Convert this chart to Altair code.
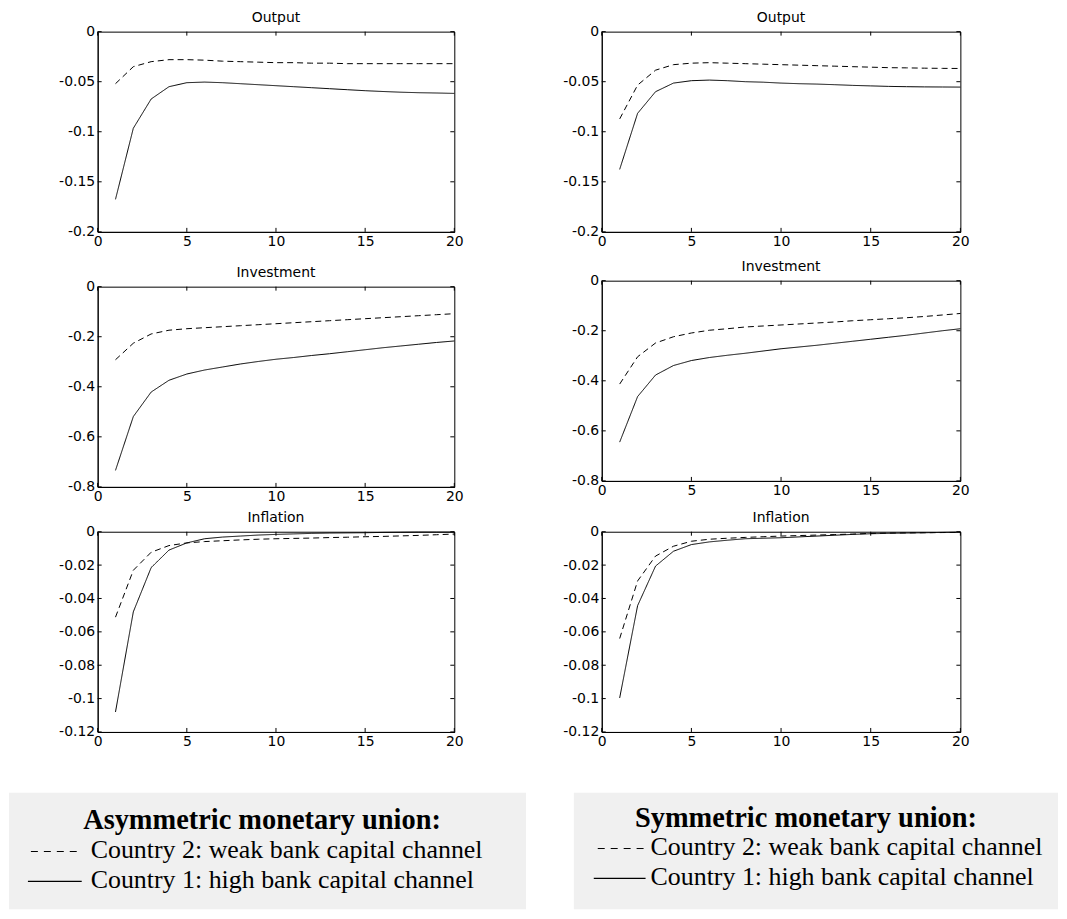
import altair as alt
import pandas as pd

# ---------------- data ----------------
periods = list(range(1, 21))
series_names = ["Country 2", "Country 1"]

asym_output_c2 = [-0.052, -0.035, -0.030, -0.028, -0.028, -0.0285, -0.0295, -0.030, -0.0305, -0.031,
                  -0.031, -0.0315, -0.0315, -0.032, -0.032, -0.032, -0.032, -0.032, -0.032, -0.032]
asym_output_c1 = [-0.1675, -0.0965, -0.0673, -0.055, -0.051, -0.0504, -0.051, -0.052, -0.053, -0.054,
                  -0.055, -0.056, -0.057, -0.058, -0.059, -0.0598, -0.0605, -0.061, -0.0613, -0.0617]
sym_output_c2 = [-0.0872, -0.0534, -0.0385, -0.033, -0.0315, -0.031, -0.0315, -0.032, -0.0325, -0.033,
                 -0.0335, -0.034, -0.0345, -0.035, -0.0355, -0.036, -0.0362, -0.0365, -0.0367, -0.0368]
sym_output_c1 = [-0.1376, -0.0816, -0.060, -0.0514, -0.049, -0.0484, -0.049, -0.050, -0.0505, -0.0514,
                 -0.052, -0.0524, -0.053, -0.0537, -0.0542, -0.0547, -0.055, -0.0552, -0.0553, -0.0554]

asym_invest_c2 = [-0.292, -0.226, -0.189, -0.174, -0.168, -0.164, -0.160, -0.156, -0.152, -0.148,
                  -0.144, -0.140, -0.136, -0.132, -0.128, -0.124, -0.120, -0.116, -0.112, -0.108]
asym_invest_c1 = [-0.734, -0.519, -0.421, -0.374, -0.349, -0.333, -0.321, -0.309, -0.299, -0.290,
                  -0.283, -0.275, -0.268, -0.260, -0.252, -0.244, -0.237, -0.230, -0.223, -0.217]
sym_invest_c2 = [-0.413, -0.304, -0.249, -0.224, -0.209, -0.198, -0.192, -0.185, -0.181, -0.177,
                 -0.173, -0.169, -0.165, -0.160, -0.156, -0.152, -0.148, -0.143, -0.137, -0.131]
sym_invest_c1 = [-0.645, -0.463, -0.377, -0.339, -0.319, -0.307, -0.298, -0.290, -0.281, -0.272,
                 -0.265, -0.258, -0.250, -0.242, -0.234, -0.226, -0.218, -0.209, -0.200, -0.192]

asym_infl_c2 = [-0.0512, -0.0231, -0.0123, -0.0083, -0.0067, -0.0059, -0.0054, -0.0049, -0.0045, -0.0042,
                -0.0040, -0.0038, -0.0035, -0.0033, -0.0030, -0.0028, -0.0025, -0.0022, -0.0018, -0.0014]
asym_infl_c1 = [-0.108, -0.048, -0.0215, -0.011, -0.0067, -0.0042, -0.0032, -0.0026, -0.0020, -0.0016,
                -0.0013, -0.0010, -0.0008, -0.0007, -0.0006, -0.0004, -0.0003, -0.0002, -0.0002, -0.0002]
sym_infl_c2 = [-0.064, -0.0295, -0.0146, -0.0087, -0.0057, -0.0045, -0.0039, -0.0034, -0.0030, -0.0026,
               -0.0023, -0.0020, -0.0017, -0.0014, -0.0010, -0.0008, -0.0007, -0.0006, -0.0005, -0.0004]
sym_infl_c1 = [-0.0996, -0.0443, -0.0206, -0.0117, -0.0077, -0.0061, -0.0051, -0.0042, -0.0039, -0.0036,
               -0.0031, -0.0026, -0.0021, -0.0016, -0.0012, -0.0010, -0.0008, -0.0006, -0.0004, -0.0002]

x_ticks = [0, 5, 10, 15, 20]
output_ticks = [0, -0.05, -0.1, -0.15, -0.2]
invest_ticks = [0, -0.2, -0.4, -0.6, -0.8]
infl_ticks = [0, -0.02, -0.04, -0.06, -0.08, -0.1, -0.12]

panel_titles = ["Output", "Investment", "Inflation"]
legend_titles = ["Asymmetric monetary union:", "Symmetric monetary union:"]
legend_labels = ["Country 2: weak bank capital channel", "Country 1: high bank capital channel"]

SANS = "DejaVu Sans"
SERIF = "Liberation Serif"
TICK = 4
H = 201


def panel(title, c2, c1, yticks, width, min_extent):
    df = pd.DataFrame({
        "t": periods + periods,
        "v": c2 + c1,
        "s": [series_names[0]] * len(c2) + [series_names[1]] * len(c1),
    })
    xt = pd.DataFrame({"t": x_ticks})
    yt = pd.DataFrame({"v": yticks})
    x_enc = alt.X("t:Q",
                  scale=alt.Scale(domain=[0, 20], nice=False, zero=False),
                  axis=alt.Axis(values=x_ticks, title=None, grid=False, ticks=False,
                                labelFlush=False, labelPadding=3, format="d",
                                domainColor="black", labelColor="black",
                                labelFont=SANS, labelFontSize=14))
    y_enc = alt.Y("v:Q",
                  scale=alt.Scale(domain=[min(yticks), 0], nice=False, zero=False),
                  axis=alt.Axis(values=yticks, title=None, grid=False, ticks=False,
                                labelFlush=False, labelPadding=3,
                                labelExpr="'' + datum.value", minExtent=min_extent,
                                domainColor="black", labelColor="black",
                                labelFont=SANS, labelFontSize=14))
    lines = alt.Chart(df).mark_line(color="black", strokeWidth=1).encode(
        x=x_enc, y=y_enc,
        strokeDash=alt.StrokeDash("s:N", scale=alt.Scale(domain=series_names, range=[[6, 4], [1, 0]]),
                                  legend=None),
        detail="s:N",
    )
    yl = alt.Chart(yt).mark_rule(color="black", strokeWidth=1).encode(
        y=y_enc, x=alt.value(0), x2=alt.value(TICK))
    yr = alt.Chart(yt).mark_rule(color="black", strokeWidth=1).encode(
        y=y_enc, x=alt.value(width - TICK), x2=alt.value(width))
    xb = alt.Chart(xt).mark_rule(color="black", strokeWidth=1).encode(
        x=x_enc, y=alt.value(H - TICK), y2=alt.value(H))
    xtp = alt.Chart(xt).mark_rule(color="black", strokeWidth=1).encode(
        x=x_enc, y=alt.value(0), y2=alt.value(TICK))
    return alt.layer(lines, yl, yr, xb, xtp).properties(
        width=width, height=H,
        title=alt.TitleParams(title, font=SANS, fontSize=14, fontWeight="normal",
                              offset=0, anchor="middle", color="black"),
    )


def legend_box(title, width, box_x0, title_cx, title_y, dash_x, solid_x, text_x,
               line1_y, line2_y, text1_y, text2_y):
    base = alt.Chart(pd.DataFrame({"k": [0]}))
    bg = base.mark_rect(color="#f0f0f0").encode(
        x=alt.value(box_x0), x2=alt.value(width), y=alt.value(0), y2=alt.value(117))
    ttl = base.mark_text(font=SERIF, fontSize=28.5, fontWeight="bold", align="center",
                         baseline="alphabetic", color="black").encode(
        x=alt.value(title_cx), y=alt.value(title_y), text=alt.value(title))
    d = base.mark_rule(color="black", strokeWidth=1, strokeDash=[7, 6]).encode(
        x=alt.value(dash_x[0]), x2=alt.value(dash_x[1]), y=alt.value(line1_y))
    s = base.mark_rule(color="black", strokeWidth=1.3).encode(
        x=alt.value(solid_x[0]), x2=alt.value(solid_x[1]), y=alt.value(line2_y))
    t1 = base.mark_text(font=SERIF, fontSize=26, align="left", baseline="alphabetic",
                        color="black").encode(
        x=alt.value(text_x), y=alt.value(text1_y), text=alt.value(legend_labels[0]))
    t2 = base.mark_text(font=SERIF, fontSize=26, align="left", baseline="alphabetic",
                        color="black").encode(
        x=alt.value(text_x), y=alt.value(text2_y), text=alt.value(legend_labels[1]))
    return alt.layer(bg, ttl, d, s, t1, t2).properties(
        width=width, height=117, view=alt.ViewBackground(stroke="transparent"))


LW, RW = 358, 360
LEXT, REXT = 89, 46

left_col = alt.vconcat(
    alt.vconcat(
        alt.vconcat(
            panel(panel_titles[0], asym_output_c2, asym_output_c1, output_ticks, LW, LEXT),
            panel(panel_titles[1], asym_invest_c2, asym_invest_c1, invest_ticks, LW, LEXT),
            spacing=15),
        panel(panel_titles[2], asym_infl_c2, asym_infl_c1, infl_ticks, LW, LEXT),
        spacing=5),
    legend_box(legend_titles[0], 430, -89, 165, 36, (-67, -17), (-70, -16), -7, 59, 89, 66, 96),
    spacing=42)

right_col = alt.vconcat(
    alt.vconcat(
        alt.vconcat(
            panel(panel_titles[0], sym_output_c2, sym_output_c1, output_ticks, RW, REXT),
            panel(panel_titles[1], sym_invest_c2, sym_invest_c1, invest_ticks, RW, REXT),
            spacing=9),
        panel(panel_titles[2], sym_infl_c2, sym_infl_c1, infl_ticks, RW, REXT),
        spacing=11),
    legend_box(legend_titles[1], 458, -28, 205, 34, (-4, 44), (-8, 44), 49, 56, 86, 63, 93),
    spacing=42)

chart = alt.hconcat(left_col, right_col, spacing=28).properties(
    padding=0, background="white"
).configure_view(stroke="black", strokeWidth=1)

chart.save("out.html", embed_options={"renderer": "svg", "actions": False})
